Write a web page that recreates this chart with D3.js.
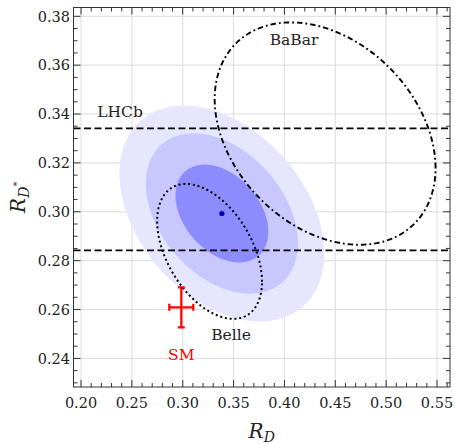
<!DOCTYPE html>
<html><head><meta charset="utf-8">
<script src="https://cdn.jsdelivr.net/npm/d3@7"></script>
<style>body{margin:0;background:#fff}</style>
</head><body>
<svg id="c" width="455" height="444"></svg>
<script>
// ---------- data ----------
const xTicks = [0.20,0.25,0.30,0.35,0.40,0.45,0.50,0.55];
const yTicks = [0.24,0.26,0.28,0.30,0.32,0.34,0.36,0.38];
const xDomain = [0.1926, 0.5628];
const yDomain = [0.2283, 0.3836];
// global fit (filled contours, outer to inner), delta chi^2 levels
const fitCenter = [0.3385, 0.2993];
const fitSigma = [0.0301, 0.0132];
const fitRho = -0.37;
const fitLevels = [11.2, 6.18, 2.30];
const fitColors = ["#e6e6ff", "#c8c8ff", "#8c8cff"];
// experiments (1 sigma 2D contours)
const babarCenter = [0.440, 0.332];
const babarSigma = [0.0716, 0.0300];
const babarRho = -0.31;
const belleCenter = [0.3264, 0.2838];
const belleSigma = [0.0340, 0.0182];
const belleRho = -0.45;
const expLevel = 2.30;
const lhcbBand = [0.2842, 0.3341];
// Standard Model point
const smPoint = [0.2986, 0.2609];
const smErr = [0.0118, 0.0082];
// annotations (data coords)
const labelText = ["BaBar", "LHCb", "Belle", "SM"];
const labelX = [0.4094, 0.2384, 0.3475, 0.2986];
const labelY = [0.3702, 0.3407, 0.2495, 0.2413];
const labelColor = ["#222", "#222", "#222", "#ff0000"];

// ---------- layout ----------
const L = 73.5, R = 450, T = 7.5, B = 387;
const svg = d3.select("#c");
const x = d3.scaleLinear().domain(xDomain).range([L, R]);
const y = d3.scaleLinear().domain(yDomain).range([B, T]);
const font = "'DejaVu Serif', serif";

svg.append("clipPath").attr("id","clip").append("rect")
  .attr("x",L).attr("y",T).attr("width",R-L).attr("height",B-T);

// grid
const g = svg.append("g");
g.selectAll("line.gx").data(xTicks).join("line")
  .attr("x1",d=>x(d)).attr("x2",d=>x(d)).attr("y1",T).attr("y2",B)
  .attr("stroke","#dcdcdc").attr("stroke-width",1);
g.selectAll("line.gy").data(yTicks).join("line")
  .attr("y1",d=>y(d)).attr("y2",d=>y(d)).attr("x1",L).attr("x2",R)
  .attr("stroke","#dcdcdc").attr("stroke-width",1);

function ellipse(c, s, rho, d2, n=240){
  const k = Math.sqrt(d2), r = Math.sqrt(1-rho*rho);
  return d3.range(n).map(i=>{
    const t = 2*Math.PI*i/n;
    return [c[0]+k*s[0]*Math.cos(t), c[1]+k*s[1]*(rho*Math.cos(t)+r*Math.sin(t))];
  });
}
const line = d3.line().x(d=>x(d[0])).y(d=>y(d[1])).curve(d3.curveLinearClosed);

const plot = svg.append("g").attr("clip-path","url(#clip)");
fitLevels.forEach((lv,i)=>{
  plot.append("path").attr("d", line(ellipse(fitCenter, fitSigma, fitRho, lv)))
    .attr("fill", fitColors[i]).attr("stroke","none");
});
plot.append("circle").attr("cx",x(fitCenter[0])).attr("cy",y(fitCenter[1])).attr("r",2.6)
  .attr("fill","#0000b0");

// LHCb band
plot.selectAll("line.lhcb").data(lhcbBand).join("line")
  .attr("x1",L).attr("x2",R).attr("y1",d=>y(d)).attr("y2",d=>y(d))
  .attr("stroke","#000").attr("stroke-width",1.8).attr("stroke-dasharray","7,3.5");

// BaBar dash-dot
plot.append("path").attr("d", line(ellipse(babarCenter, babarSigma, babarRho, expLevel, 400)))
  .attr("fill","none").attr("stroke","#000").attr("stroke-width",1.9)
  .attr("stroke-dasharray","5.5,3,1.8,3");
// Belle dotted
plot.append("path").attr("d", line(ellipse(belleCenter, belleSigma, belleRho, expLevel, 400)))
  .attr("fill","none").attr("stroke","#000").attr("stroke-width",2)
  .attr("stroke-dasharray","2,2.8");

// SM point with error bars
const sm = plot.append("g").attr("stroke","#ff0000").attr("stroke-width",2.2);
sm.append("line").attr("x1",x(smPoint[0]-smErr[0])).attr("x2",x(smPoint[0]+smErr[0]))
  .attr("y1",y(smPoint[1])).attr("y2",y(smPoint[1]));
sm.append("line").attr("y1",y(smPoint[1]-smErr[1])).attr("y2",y(smPoint[1]+smErr[1]))
  .attr("x1",x(smPoint[0])).attr("x2",x(smPoint[0]));
[-1,1].forEach(s=>{
  sm.append("line").attr("x1",x(smPoint[0]+s*smErr[0])).attr("x2",x(smPoint[0]+s*smErr[0]))
    .attr("y1",y(smPoint[1])-3.5).attr("y2",y(smPoint[1])+3.5);
  sm.append("line").attr("y1",y(smPoint[1]+s*smErr[1])).attr("y2",y(smPoint[1]+s*smErr[1]))
    .attr("x1",x(smPoint[0])-3.5).attr("x2",x(smPoint[0])+3.5);
});

// annotations
labelText.forEach((t,i)=>{
  svg.append("text").attr("x",x(labelX[i])).attr("y",y(labelY[i]))
    .attr("text-anchor","middle").attr("dominant-baseline","central")
    .attr("font-family",font).attr("font-size",15.5).attr("fill",labelColor[i]).text(t);
});

// frame
svg.append("rect").attr("x",L).attr("y",T).attr("width",R-L).attr("height",B-T)
  .attr("fill","none").attr("stroke","#333").attr("stroke-width",1);

// ticks
const xMinor = d3.range(0.20, 0.5601, 0.01).map(v=>+v.toFixed(3));
const yMinor = d3.range(0.23, 0.3801, 0.005).map(v=>+v.toFixed(4));
const isMajX = v => xTicks.some(t=>Math.abs(t-v)<1e-6);
const isMajY = v => yTicks.some(t=>Math.abs(t-v)<1e-6);
const tk = svg.append("g").attr("stroke","#333").attr("stroke-width",1);
xMinor.forEach(v=>{
  const len = isMajX(v)?7:4;
  tk.append("line").attr("x1",x(v)).attr("x2",x(v)).attr("y1",B).attr("y2",B-len);
  tk.append("line").attr("x1",x(v)).attr("x2",x(v)).attr("y1",T).attr("y2",T+len);
});
yMinor.forEach(v=>{
  const len = isMajY(v)?7:4;
  tk.append("line").attr("y1",y(v)).attr("y2",y(v)).attr("x1",L).attr("x2",L+len);
  tk.append("line").attr("y1",y(v)).attr("y2",y(v)).attr("x1",R).attr("x2",R-len);
});

// tick labels
svg.selectAll("text.xl").data(xTicks).join("text")
  .attr("x",d=>x(d)).attr("y",408).attr("text-anchor","middle")
  .attr("font-family",font).attr("font-size",14.5).attr("fill","#222")
  .text(d=>d3.format(".2f")(d));
svg.selectAll("text.yl").data(yTicks).join("text")
  .attr("x",70).attr("y",d=>y(d)+5.3).attr("text-anchor","end")
  .attr("font-family",font).attr("font-size",14.5).attr("fill","#222")
  .text(d=>d3.format(".2f")(d));

// axis titles
const xt = svg.append("text").attr("x",(L+R)/2).attr("y",438).attr("text-anchor","middle")
  .attr("font-family",font).attr("font-size",20).attr("font-style","italic").attr("fill","#222");
xt.append("tspan").text("R");
xt.append("tspan").attr("font-size",14).attr("dy",4).text("D");

const yt = svg.append("text").attr("transform",`translate(25,${(T+B)/2}) rotate(-90)`)
  .attr("text-anchor","middle")
  .attr("font-family",font).attr("font-size",20).attr("font-style","italic").attr("fill","#222");
yt.append("tspan").text("R");
yt.append("tspan").attr("font-size",14).attr("dy",4).text("D");
yt.append("tspan").attr("font-size",10).attr("dy",-9).attr("font-style","normal").text("*");
</script>
</body></html>
